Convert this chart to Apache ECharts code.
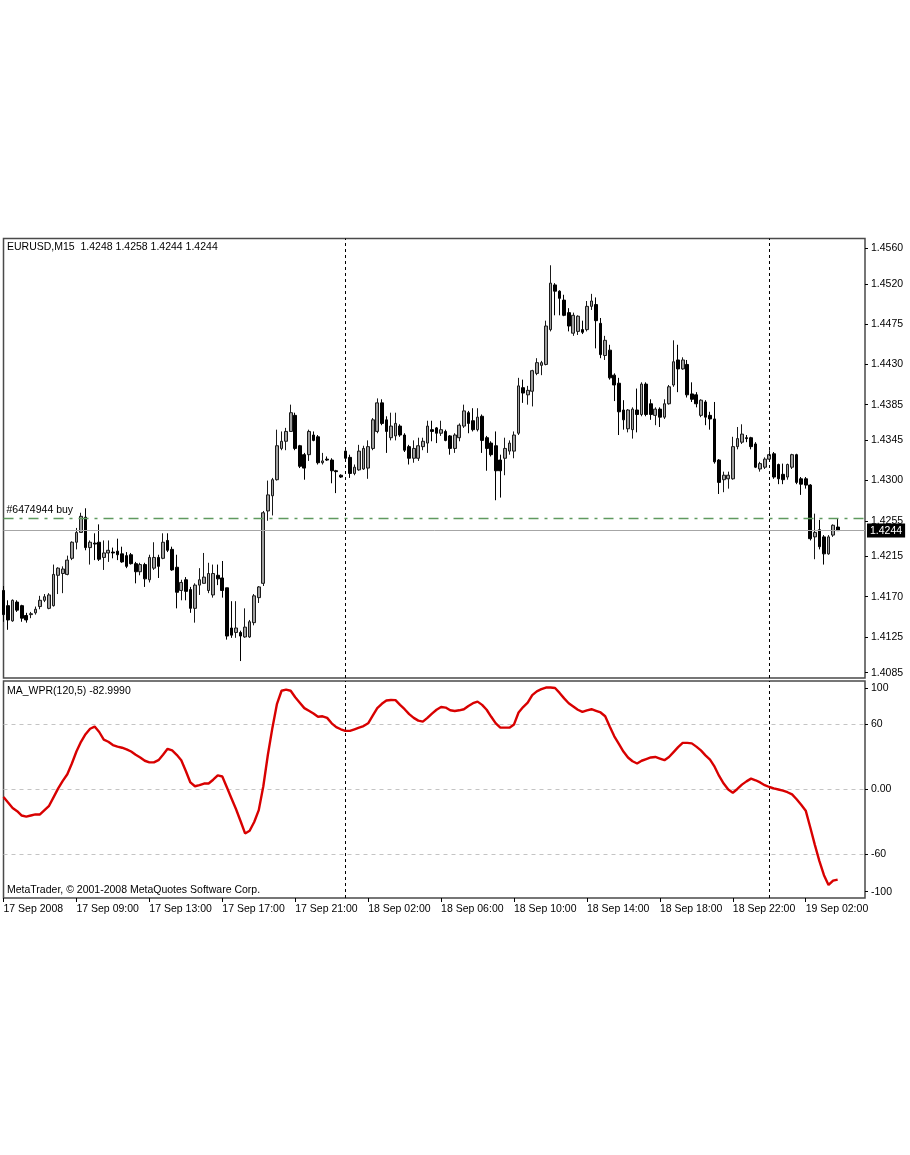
<!DOCTYPE html>
<html>
<head>
<meta charset="utf-8">
<script src="https://cdn.jsdelivr.net/npm/echarts@6/dist/echarts.min.js"></script>
<style>
html,body{margin:0;padding:0;background:#ffffff;}
#chart{width:910px;height:1155px;}
</style>
</head>
<body>
<div id="chart"></div>
<script>
// ---------- DATA ----------
const xTickLabels = ['17 Sep 2008','17 Sep 09:00','17 Sep 13:00','17 Sep 17:00','17 Sep 21:00','18 Sep 02:00',
  '18 Sep 06:00','18 Sep 10:00','18 Sep 14:00','18 Sep 18:00','18 Sep 22:00','19 Sep 02:00'];
const barsPerLabel = 16;
const totalSlots = 190; // bars + empty chart shift on the right

const opens = [1.4177,1.4160,1.4143,1.4164,1.4160,1.4149,1.4150,1.4152,1.4159,1.4166,
1.4157,1.4160,1.4194,1.4196,1.4195,1.4213,1.4231,1.4242,1.4259,1.4225,
1.4230,1.4231,1.4214,1.4219,1.4220,1.4221,1.4218,1.4216,1.4217,1.4207,
1.4198,1.4206,1.4189,1.4202,1.4214,1.4213,1.4233,1.4223,1.4203,1.4177,
1.4189,1.4178,1.4157,1.4183,1.4185,1.4177,1.4172,1.4194,1.4191,1.4180,
1.4135,1.4130,1.4130,1.4125,1.4125,1.4141,1.4169,1.4185,1.4266,1.4283,
1.4301,1.4336,1.4344,1.4355,1.4373,1.4339,1.4329,1.4329,1.4351,1.4349,
1.4320,1.4324,1.4323,1.4311,1.4306,1.4333,1.4326,1.4308,1.4312,1.4313,
1.4314,1.4336,1.4355,1.4387,1.4368,1.4348,1.4350,1.4361,1.4351,1.4338,
1.4325,1.4325,1.4338,1.4342,1.4357,1.4359,1.4353,1.4355,1.4350,1.4336,
1.4348,1.4361,1.4376,1.4367,1.4357,1.4372,1.4348,1.4342,1.4339,1.4323,
1.4325,1.4333,1.4333,1.4353,1.4404,1.4396,1.4400,1.4420,1.4429,1.4430,
1.4469,1.4519,1.4512,1.4502,1.4488,1.4465,1.4467,1.4469,1.4469,1.4495,
1.4497,1.4476,1.4440,1.4446,1.4418,1.4409,1.4379,1.4358,1.4357,1.4379,
1.4374,1.4408,1.4386,1.4373,1.4380,1.4371,1.4386,1.4407,1.4435,1.4425,
1.4430,1.4397,1.4396,1.4373,1.4388,1.4373,1.4369,1.4323,1.4301,1.4302,
1.4302,1.4338,1.4343,1.4348,1.4348,1.4341,1.4313,1.4315,1.4324,1.4330,
1.4318,1.4307,1.4304,1.4315,1.4329,1.4302,1.4302,1.4295,1.4237,1.4245,
1.4237,1.4218,1.4239,1.4248];

const closes = [1.4150,1.4144,1.4166,1.4155,1.4146,1.4144,1.4151,1.4156,1.4166,1.4170,
1.4172,1.4195,1.4202,1.4201,1.4211,1.4231,1.4242,1.4260,1.4225,1.4231,
1.4229,1.4212,1.4219,1.4222,1.4219,1.4217,1.4209,1.4204,1.4207,1.4198,
1.4206,1.4190,1.4214,1.4214,1.4204,1.4231,1.4222,1.4200,1.4175,1.4186,
1.4176,1.4157,1.4183,1.4189,1.4192,1.4196,1.4196,1.4190,1.4177,1.4126,
1.4127,1.4135,1.4126,1.4136,1.4142,1.4171,1.4181,1.4264,1.4284,1.4301,
1.4339,1.4344,1.4355,1.4376,1.4336,1.4316,1.4314,1.4355,1.4345,1.4320,
1.4322,1.4323,1.4311,1.4310,1.4304,1.4325,1.4308,1.4315,1.4333,1.4336,
1.4338,1.4368,1.4387,1.4364,1.4355,1.4361,1.4364,1.4351,1.4334,1.4325,
1.4336,1.4339,1.4344,1.4361,1.4355,1.4353,1.4357,1.4345,1.4336,1.4351,
1.4362,1.4378,1.4364,1.4357,1.4371,1.4345,1.4336,1.4329,1.4311,1.4311,
1.4336,1.4342,1.4351,1.4406,1.4398,1.4401,1.4423,1.4432,1.4432,1.4473,
1.4521,1.4512,1.4504,1.4485,1.4473,1.4485,1.4484,1.4466,1.4495,1.4501,
1.4479,1.4441,1.4457,1.4415,1.4407,1.4377,1.4368,1.4379,1.4380,1.4374,
1.4408,1.4374,1.4374,1.4380,1.4371,1.4386,1.4405,1.4433,1.4425,1.4435,
1.4396,1.4391,1.4386,1.4390,1.4371,1.4369,1.4321,1.4298,1.4306,1.4306,
1.4338,1.4347,1.4352,1.4347,1.4338,1.4315,1.4319,1.4324,1.4329,1.4304,
1.4302,1.4301,1.4318,1.4329,1.4298,1.4296,1.4295,1.4235,1.4242,1.4226,
1.4218,1.4237,1.4250,1.4244];

const lows = [1.4142,1.4133,1.4142,1.4153,1.4142,1.4141,1.4146,1.4150,1.4156,1.4164,
1.4156,1.4159,1.4173,1.4174,1.4194,1.4211,1.4223,1.4242,1.4222,1.4206,
1.4211,1.4210,1.4200,1.4209,1.4213,1.4211,1.4208,1.4202,1.4206,1.4185,
1.4194,1.4181,1.4186,1.4200,1.4191,1.4212,1.4220,1.4199,1.4157,1.4166,
1.4166,1.4152,1.4141,1.4172,1.4185,1.4174,1.4169,1.4183,1.4169,1.4122,
1.4124,1.4124,1.4098,1.4124,1.4124,1.4138,1.4163,1.4182,1.4255,1.4261,
1.4300,1.4334,1.4334,1.4355,1.4334,1.4314,1.4301,1.4322,1.4344,1.4318,
1.4318,1.4322,1.4297,1.4286,1.4303,1.4323,1.4303,1.4306,1.4311,1.4312,
1.4302,1.4334,1.4353,1.4362,1.4331,1.4345,1.4345,1.4349,1.4332,1.4318,
1.4320,1.4322,1.4334,1.4331,1.4344,1.4342,1.4350,1.4344,1.4329,1.4331,
1.4344,1.4359,1.4353,1.4355,1.4355,1.4331,1.4311,1.4327,1.4278,1.4281,
1.4306,1.4329,1.4325,1.4351,1.4387,1.4385,1.4383,1.4418,1.4418,1.4429,
1.4467,1.4485,1.4485,1.4484,1.4467,1.4462,1.4463,1.4464,1.4467,1.4491,
1.4448,1.4437,1.4435,1.4413,1.4389,1.4351,1.4357,1.4354,1.4347,1.4354,
1.4372,1.4372,1.4368,1.4362,1.4360,1.4369,1.4385,1.4405,1.4399,1.4424,
1.4393,1.4388,1.4382,1.4371,1.4362,1.4357,1.4319,1.4285,1.4287,1.4291,
1.4301,1.4335,1.4341,1.4343,1.4335,1.4314,1.4310,1.4313,1.4323,1.4302,
1.4296,1.4296,1.4301,1.4313,1.4296,1.4284,1.4291,1.4233,1.4212,1.4223,
1.4206,1.4217,1.4237,1.4244];

const highs = [1.4182,1.4166,1.4167,1.4166,1.4161,1.4152,1.4153,1.4159,1.4171,1.4173,
1.4174,1.4206,1.4203,1.4204,1.4216,1.4232,1.4247,1.4264,1.4269,1.4233,
1.4241,1.4251,1.4233,1.4233,1.4225,1.4235,1.4226,1.4220,1.4219,1.4209,
1.4208,1.4208,1.4217,1.4231,1.4217,1.4241,1.4241,1.4226,1.4217,1.4189,
1.4192,1.4181,1.4185,1.4202,1.4219,1.4208,1.4206,1.4206,1.4210,1.4180,
1.4165,1.4165,1.4132,1.4157,1.4144,1.4173,1.4182,1.4266,1.4300,1.4303,
1.4357,1.4355,1.4359,1.4385,1.4376,1.4340,1.4331,1.4357,1.4355,1.4351,
1.4331,1.4327,1.4325,1.4312,1.4307,1.4334,1.4329,1.4318,1.4340,1.4339,
1.4345,1.4370,1.4392,1.4391,1.4372,1.4376,1.4376,1.4363,1.4353,1.4340,
1.4345,1.4348,1.4348,1.4367,1.4367,1.4360,1.4367,1.4357,1.4351,1.4353,
1.4364,1.4385,1.4378,1.4381,1.4381,1.4374,1.4350,1.4344,1.4355,1.4329,
1.4348,1.4345,1.4355,1.4415,1.4413,1.4406,1.4424,1.4437,1.4434,1.4479,
1.4541,1.4521,1.4513,1.4508,1.4493,1.4488,1.4485,1.4479,1.4501,1.4509,
1.4505,1.4482,1.4462,1.4452,1.4420,1.4415,1.4390,1.4380,1.4382,1.4403,
1.4410,1.4410,1.4391,1.4382,1.4382,1.4391,1.4407,1.4457,1.4452,1.4438,
1.4435,1.4410,1.4399,1.4391,1.4390,1.4377,1.4388,1.4324,1.4310,1.4310,
1.4349,1.4360,1.4363,1.4351,1.4349,1.4343,1.4321,1.4326,1.4334,1.4332,
1.4319,1.4319,1.4319,1.4330,1.4330,1.4304,1.4304,1.4296,1.4263,1.4256,
1.4239,1.4239,1.4251,1.4258];

const wpr = [-7,-12,-17,-20,-24,-25,-24,-23,-23,-19,
-15,-7,1,8,14,24,35,44,51,56,
58,53,46,44,41,39.5,38.5,37,35,32,
29.5,26.5,25,25,27,32,37.5,36,32,27,
17,6.5,3,4,5.5,5.5,9,13,12,2,
-8,-18,-29,-40.5,-38,-30,-19,3,32,57,
79,91,92,91,85,80,75,72.5,70,67,
67.5,66,61,57.5,55.5,54,54,55.5,57,58.5,
61,68,75,79,82,82.5,82.4,78,74,69.5,
66,63.5,62.5,66,70,73.5,76,75.5,73,72.3,
73,74,77,79.5,81,78,73.5,67,61,57,
57,57,60,71,76,80,87,90.5,92.5,94,
94,93.5,89,84,79.5,76.5,73.5,71.5,73,74,
72.5,71,67.5,58,49,42,35,29.5,26,24,
26.5,28,29.5,30,28.5,27,30,34.5,39,43,
43,42.5,39.5,36,31.5,27.5,21,12.5,5.5,0,
-3,0.5,4.5,7.5,10,8.5,6.5,4,2.3,1,
0,-1,-2.5,-4.5,-9,-14,-19.5,-35,-51,-66,
-79,-88,-84,-83];

const priceTicks = [1.4085,1.4125,1.4170,1.4215,1.4255,1.4300,1.4345,1.4385,1.4430,1.4475,1.4520,1.4560];
const wprTicks = [-100,-60,0,60,100];
const wprTickText = {'100':'100','60':'60','0':'0.00','-60':'-60','-100':'-100'};
const wprLevels = [60,0,-60];
const separatorBars = [75,168];
const orderPrice = 1.4258;
const orderLabel = '#6474944 buy';
const bidPrice = 1.4244;
const headerText = 'EURUSD,M15  1.4248 1.4258 1.4244 1.4244';
const wprHeader = 'MA_WPR(120,5) -82.9990';
const copyright = 'MetaTrader, \u00A9 2001-2008 MetaQuotes Software Corp.';

// ---------- BUILD ----------
const FONT = 'Liberation Sans, Arial, sans-serif';
const FS = 10.5;
const slots = Array.from({length: totalSlots}, (_, i) => i);
const candles = opens.map((o, i) => [o, closes[i], lows[i], highs[i]]);
const showTick = (i) => i % barsPerLabel === 0;

const chart = echarts.init(document.getElementById('chart'), null, {renderer: 'canvas'});

const option = {
  animation: false,
  backgroundColor: '#ffffff',
  textStyle: {fontFamily: FONT},
  grid: [
    {left: 3.5, right: 45, top: 238.5, height: 439.5, show: true, backgroundColor: '#ffffff',
     borderColor: '#4a4a4a', borderWidth: 1.5, outerBoundsMode: 'none', containLabel: false},
    {left: 3.5, right: 45, top: 681, height: 217, show: true, backgroundColor: '#ffffff',
     borderColor: '#4a4a4a', borderWidth: 1.5, outerBoundsMode: 'none', containLabel: false}
  ],
  xAxis: [
    {gridIndex: 0, type: 'category', data: slots, boundaryGap: false, position: 'bottom',
     axisLine: {show: false, onZero: false}, axisTick: {show: false}, axisLabel: {show: false}, splitLine: {show: false}},
    {gridIndex: 1, type: 'category', data: slots, boundaryGap: false, position: 'bottom',
     axisLine: {show: false, onZero: false}, splitLine: {show: false},
     axisTick: {show: true, interval: showTick, length: 4, inside: false, lineStyle: {color: '#000', width: 1}},
     axisLabel: {show: true, interval: showTick, align: 'left', margin: 6, color: '#000',
       fontSize: FS, fontFamily: FONT,
       formatter: (v, i) => xTickLabels[i / barsPerLabel] || ''}}
  ],
  yAxis: [
    {gridIndex: 0, type: 'value', position: 'right', min: 1.407904, max: 1.457097, scale: true,
     axisLine: {show: false, onZero: false}, splitLine: {show: false},
     axisTick: {show: true, customValues: priceTicks, length: 3, lineStyle: {color: '#000'}},
     axisLabel: {show: true, customValues: priceTicks, margin: 6, color: '#000', fontSize: FS, fontFamily: FONT,
       formatter: (v) => Number(v).toFixed(4)}},
    {gridIndex: 1, type: 'value', position: 'right', min: -100, max: 100,
     axisLine: {show: false, onZero: false}, splitLine: {show: false},
     axisTick: {show: true, customValues: [-94, -60, 0, 60, 93.5], length: 3, lineStyle: {color: '#000'}},
     axisLabel: {show: true, customValues: wprTicks, margin: 6, color: '#000', fontSize: FS, fontFamily: FONT,
       formatter: (v) => {
         const t = wprTickText[String(Math.round(v))];
         if (v >= 100) return '{t|' + t + '}';
         if (v <= -100) return '{b|' + t + '}';
         return t;
       },
       rich: {
         t: {padding: [14, 0, 0, 0], fontSize: FS, fontFamily: FONT, color: '#000'},
         b: {padding: [0, 0, 12, 0], fontSize: FS, fontFamily: FONT, color: '#000'}
       }}}
  ],
  graphic: [
    {type: 'text', left: 7, top: 242, silent: true, z: 10,
     style: {text: headerText, fill: '#000', font: FS + 'px ' + FONT}},
    {type: 'text', left: 7, top: 686, silent: true, z: 10,
     style: {text: wprHeader, fill: '#000', font: FS + 'px ' + FONT}},
    {type: 'text', left: 7, top: 885, silent: true, z: 10,
     style: {text: copyright, fill: '#000', font: FS + 'px ' + FONT}}
  ],
  series: [
    {type: 'candlestick', xAxisIndex: 0, yAxisIndex: 0, data: candles, barWidth: 3.2, silent: true,
     itemStyle: {color: '#9e9e9e', color0: '#000000', borderColor: '#1a1a1a', borderColor0: '#000000', borderWidth: 1},
     markLine: {
       silent: true, symbol: ['none', 'none'], animation: false, precision: 4,
       data: [
         ...separatorBars.map(b => ({xAxis: b, lineStyle: {color: '#000', type: [3, 3], width: 1}, label: {show: false}})),
         {yAxis: bidPrice, lineStyle: {color: '#a6a6a6', type: 'solid', width: 1},
          label: {show: true, position: 'end', distance: 2, formatter: bidPrice.toFixed(4),
            backgroundColor: '#000', color: '#fff', padding: [2, 3, 1, 3], fontSize: FS, fontFamily: FONT}},
         {yAxis: orderPrice, lineStyle: {color: '#5f9a5f', type: [10, 6, 3, 6], width: 1.3},
          label: {show: true, position: 'insideStartTop', distance: 3, formatter: orderLabel,
            color: '#000', fontSize: FS, fontFamily: FONT}}
       ]
     }},
    {type: 'line', xAxisIndex: 1, yAxisIndex: 1, data: wpr, showSymbol: false, silent: true,
     lineStyle: {color: '#d80000', width: 2.4}, z: 5,
     markLine: {
       silent: true, symbol: ['none', 'none'], animation: false,
       data: [
         ...wprLevels.map(l => ({yAxis: l, lineStyle: {color: '#c4c4c4', type: [4, 4], width: 1}, label: {show: false}})),
         ...separatorBars.map(b => ({xAxis: b, lineStyle: {color: '#000', type: [3, 3], width: 1}, label: {show: false}}))
       ]
     }}
  ]
};
chart.setOption(option);
</script>
</body>
</html>
